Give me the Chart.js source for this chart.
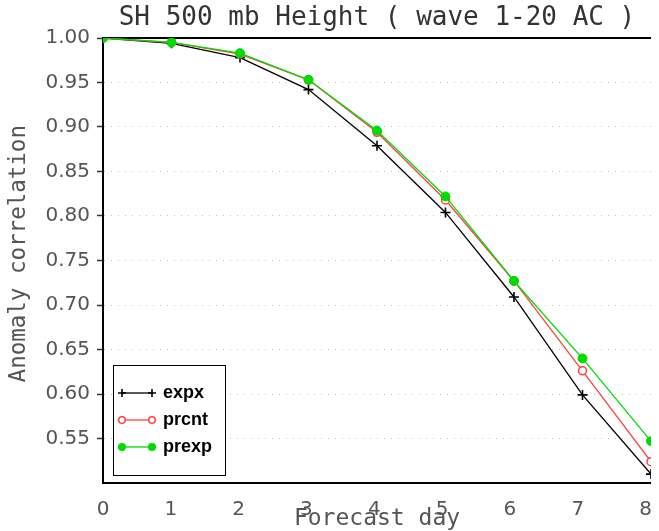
<!DOCTYPE html>
<html><head><meta charset="utf-8">
<script src="https://cdn.jsdelivr.net/npm/chart.js@4.4.1/dist/chart.umd.min.js"></script>
<style>html,body{margin:0;padding:0;background:#fff;}canvas{display:block;}</style>
</head><body>
<canvas id="c" width="659" height="531"></canvas>
<script>
// ---- data ----
const days = [0, 1, 2, 3, 4, 5, 6, 7, 8];
const xTickLabels = ['0', '1', '2', '3', '4', '5', '6', '7', '8'];
const seriesNames = ['expx', 'prcnt', 'prexp'];
const expx  = [1.000, 0.994, 0.978, 0.942, 0.879, 0.804, 0.709, 0.599, 0.510];
const prcnt = [1.000, 0.995, 0.982, 0.953, 0.894, 0.818, 0.727, 0.626, 0.524];
const prexp = [1.000, 0.995, 0.983, 0.953, 0.896, 0.822, 0.727, 0.640, 0.547];
const titleText = 'SH 500 mb Height ( wave 1-20 AC )';
const xTitle = 'Forecast day';
const yTitle = 'Anomaly correlation';

const BLACK = '#000000', RED = '#ff4040', GREEN = '#00dc00';
const toXY = arr => days.map((d, i) => ({ x: d, y: arr[i] }));

const legendBox = {
  id: 'legendBox',
  afterDatasetsDraw(chart) {
    const ctx = chart.ctx;
    const x0 = 113.5, y0 = 365.5, w = 112, h = 110;
    ctx.save();
    ctx.fillStyle = '#fff';
    ctx.fillRect(x0, y0, w, h);
    ctx.strokeStyle = '#000';
    ctx.lineWidth = 1;
    ctx.strokeRect(x0, y0, w, h);
    const rows = [393, 420, 447];
    chart.data.datasets.forEach((ds, i) => {
      const y = rows[i];
      const xa = 122, xb = 152;
      ctx.strokeStyle = ds.borderColor;
      ctx.lineWidth = 1.3;
      ctx.beginPath(); ctx.moveTo(xa, y); ctx.lineTo(xb, y); ctx.stroke();
      [xa, xb].forEach(px => {
        if (ds.pointStyle === 'cross') {
          ctx.lineWidth = 1.6;
          ctx.beginPath();
          ctx.moveTo(px - 4, y); ctx.lineTo(px + 4, y);
          ctx.moveTo(px, y - 4); ctx.lineTo(px, y + 4);
          ctx.stroke();
        } else {
          ctx.beginPath();
          ctx.arc(px, y, 3.3, 0, Math.PI * 2);
          ctx.fillStyle = ds.pointBackgroundColor;
          ctx.fill();
          ctx.lineWidth = 1.5;
          ctx.strokeStyle = ds.pointBorderColor;
          ctx.stroke();
        }
      });
      ctx.fillStyle = '#000';
      ctx.font = 'bold 18px "Liberation Sans", Arial, sans-serif';
      ctx.textAlign = 'left';
      ctx.textBaseline = 'middle';
      ctx.fillText(ds.label, 163, y);
    });
    ctx.restore();
  }
};

const isBottom = v => v <= 0.5001;
const isTop = v => v >= 0.9999;

new Chart(document.getElementById('c'), {
  type: 'line',
  data: {
    datasets: [
      { label: seriesNames[0], data: toXY(expx), borderColor: BLACK, backgroundColor: BLACK,
        borderWidth: 1.3, pointStyle: 'cross', pointRadius: 5, pointBorderWidth: 1.6,
        pointBorderColor: BLACK, pointBackgroundColor: BLACK, order: 3, xAxisID: 'x', yAxisID: 'y' },
      { label: seriesNames[1], data: toXY(prcnt), borderColor: RED, backgroundColor: RED,
        borderWidth: 1.3, pointStyle: 'circle', pointRadius: 4, pointBorderWidth: 1.5,
        pointBorderColor: RED, pointBackgroundColor: '#ffffff', order: 2, xAxisID: 'x', yAxisID: 'y' },
      { label: seriesNames[2], data: toXY(prexp), borderColor: GREEN, backgroundColor: GREEN,
        borderWidth: 1.3, pointStyle: 'circle', pointRadius: 4.5, pointBorderWidth: 1,
        pointBorderColor: GREEN, pointBackgroundColor: GREEN, order: 1, xAxisID: 'x', yAxisID: 'y' }
    ]
  },
  options: {
    responsive: false,
    animation: false,
    layout: { padding: { left: 0, right: 1, top: 0, bottom: 0 } },
    plugins: {
      legend: { display: false },
      tooltip: { enabled: false },
      title: {
        display: true, text: titleText, fullSize: false,
        color: '#333', font: { family: '"DejaVu Sans Mono", monospace', size: 26, weight: 'normal', lineHeight: 1.2 },
        padding: { top: 3, bottom: 3.8 }
      }
    },
    scales: {
      x: { type: 'linear', display: false, min: 0, max: 8 },
      xtop: {
        type: 'linear', position: 'top', min: 0, max: 8,
        ticks: { display: false }, grid: { display: false },
        border: { display: true, color: '#000', width: 2 },
        afterFit(s) { s.height = 0; }
      },
      xt: {
        type: 'linear', position: 'bottom', min: 0, max: 8.08,
        ticks: { stepSize: 1, includeBounds: false, padding: 7, color: '#555',
          font: { family: '"DejaVu Sans", sans-serif', size: 20 },
          callback: v => (xTickLabels[v] !== undefined ? xTickLabels[v] : '') },
        grid: { display: false },
        border: { display: true, color: '#000', width: 2 },
        title: { display: true, text: xTitle, color: '#555',
          font: { family: '"DejaVu Sans Mono", monospace', size: 23, lineHeight: 1 }, padding: { top: 0, bottom: 0 } },
        afterFit(s) { s.height = 48; }
      },
      y: {
        type: 'linear', position: 'left', min: 0.5, max: 1.0,
        ticks: { stepSize: 0.05, padding: 7, color: '#555',
          font: { family: '"DejaVu Sans", sans-serif', size: 20 },
          callback: v => (isBottom(v) ? '' : Number(v).toFixed(2)) },
        grid: {
          color: c => (c.tick && (isBottom(c.tick.value) || isTop(c.tick.value))) ? 'rgba(0,0,0,0)' : '#c4c4c4',
          lineWidth: 1,
          tickLength: 6, tickWidth: 1.5,
          tickColor: c => (c.tick && isBottom(c.tick.value)) ? 'rgba(0,0,0,0)' : '#333'
        },
        border: { display: true, color: '#000', width: 2, dash: [1, 6] },
        title: { display: true, text: '\u00a0' + yTitle, color: '#555',
          font: { family: '"DejaVu Sans Mono", monospace', size: 22.5, lineHeight: 1.2 }, padding: { top: 6, bottom: 0 } },
        afterFit(s) { s.width = 103; }
      }
    }
  },
  plugins: [legendBox]
});
</script>
</body></html>
